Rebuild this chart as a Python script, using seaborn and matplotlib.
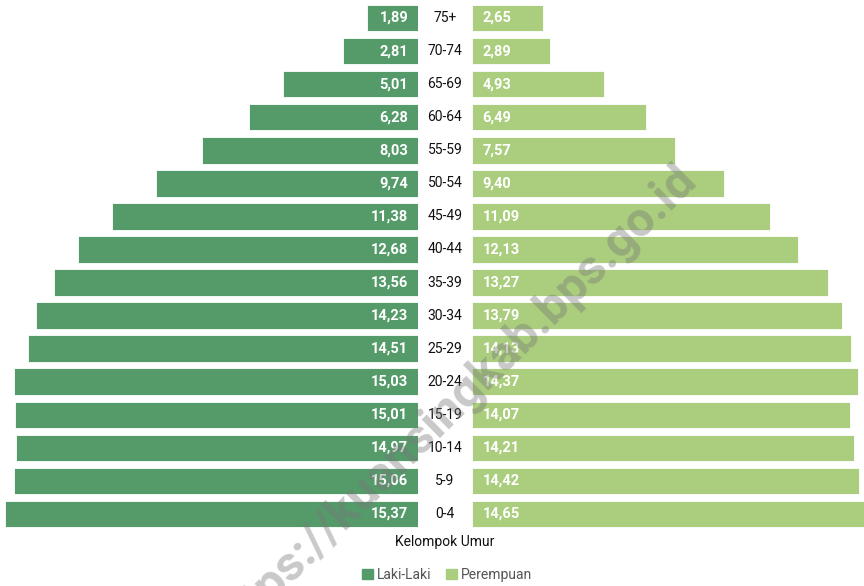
import pandas as pd
import matplotlib
matplotlib.use('Agg')
import matplotlib.pyplot as plt
import seaborn as sns
from matplotlib.patches import Patch

# data
kelompok_umur = ['75+', '70-74', '65-69', '60-64', '55-59', '50-54', '45-49', '40-44',
                 '35-39', '30-34', '25-29', '20-24', '15-19', '10-14', '5-9', '0-4']
laki_laki = [1.89, 2.81, 5.01, 6.28, 8.03, 9.74, 11.38, 12.68,
             13.56, 14.23, 14.51, 15.03, 15.01, 14.97, 15.06, 15.37]
perempuan = [2.65, 2.89, 4.93, 6.49, 7.57, 9.40, 11.09, 12.13,
             13.27, 13.79, 14.13, 14.37, 14.07, 14.21, 14.42, 14.65]

df = pd.DataFrame({'Umur': kelompok_umur, 'Laki-Laki': laki_laki, 'Perempuan': perempuan})

sns.set_style('white')
plt.rcParams['font.family'] = ['Roboto', 'DejaVu Sans']

c_laki = '#559b6a'
c_perempuan = '#aace7d'

W, H = 864, 586
fig = plt.figure(figsize=(W / 100, H / 100), dpi=100)

# axes in pixel positions
top_px, bot_px = 1.5, 530.5
ax_l = fig.add_axes([0 / W, (H - bot_px) / H, 418 / W, (bot_px - top_px) / H])
ax_r = fig.add_axes([472 / W, (H - bot_px) / H, 392 / W, (bot_px - top_px) / H])

sns.barplot(data=df, x='Laki-Laki', y='Umur', ax=ax_l, color=c_laki, orient='h',
            width=0.8, saturation=1, edgecolor='white', linewidth=0.6)
sns.barplot(data=df, x='Perempuan', y='Umur', ax=ax_r, color=c_perempuan, orient='h',
            width=0.8, saturation=1, edgecolor='white', linewidth=0.6)

scale = 26.85  # px per unit
ax_l.set_xlim(418 / scale, 0)
ax_r.set_xlim(0, 392 / scale)

for ax in (ax_l, ax_r):
    ax.set_ylim(len(kelompok_umur) - 0.5, -0.5)
    ax.set_xlabel('')
    ax.set_ylabel('')
    ax.set_xticks([])
    ax.set_yticks([])
    sns.despine(ax=ax, left=True, bottom=True)
    ax.patch.set_alpha(0)

# value labels
for i, v in enumerate(laki_laki):
    ax_l.text(0.37, i, f'{v:.2f}'.replace('.', ','), ha='right', va='center',
              color='white', fontsize=10.5, fontweight='bold')
for i, v in enumerate(perempuan):
    ax_r.text(0.4, i, f'{v:.2f}'.replace('.', ','), ha='left', va='center',
              color='white', fontsize=10.5, fontweight='bold')

# age group labels in the middle
for i, lab in enumerate(kelompok_umur):
    y = H - (18 + i * 33.07)
    fig.text(445 / W, y / H, lab, ha='center', va='center', fontsize=10, color='#111111')

fig.text(445 / W, (H - 542) / H, 'Kelompok Umur', ha='center', va='center',
         fontsize=10, color='#111111')

handles = [Patch(color=c_laki, label='Laki-Laki'), Patch(color=c_perempuan, label='Perempuan')]
leg = fig.legend(handles=handles, loc='center', bbox_to_anchor=(447 / W, (H - 575) / H),
                 ncol=2, frameon=False, fontsize=10, handlelength=0.8, handleheight=0.8,
                 handletextpad=0.3, columnspacing=1.0)
for t in leg.get_texts():
    t.set_color('#555555')

# watermark
fig.text(454 / W, (H - 404) / H, 'https://kuansingkab.bps.go.id', ha='center', va='center',
         rotation=44.5, fontsize=35, fontweight='bold', color='#777777', alpha=0.4, zorder=10)

fig.savefig('out.png', dpi=100)
